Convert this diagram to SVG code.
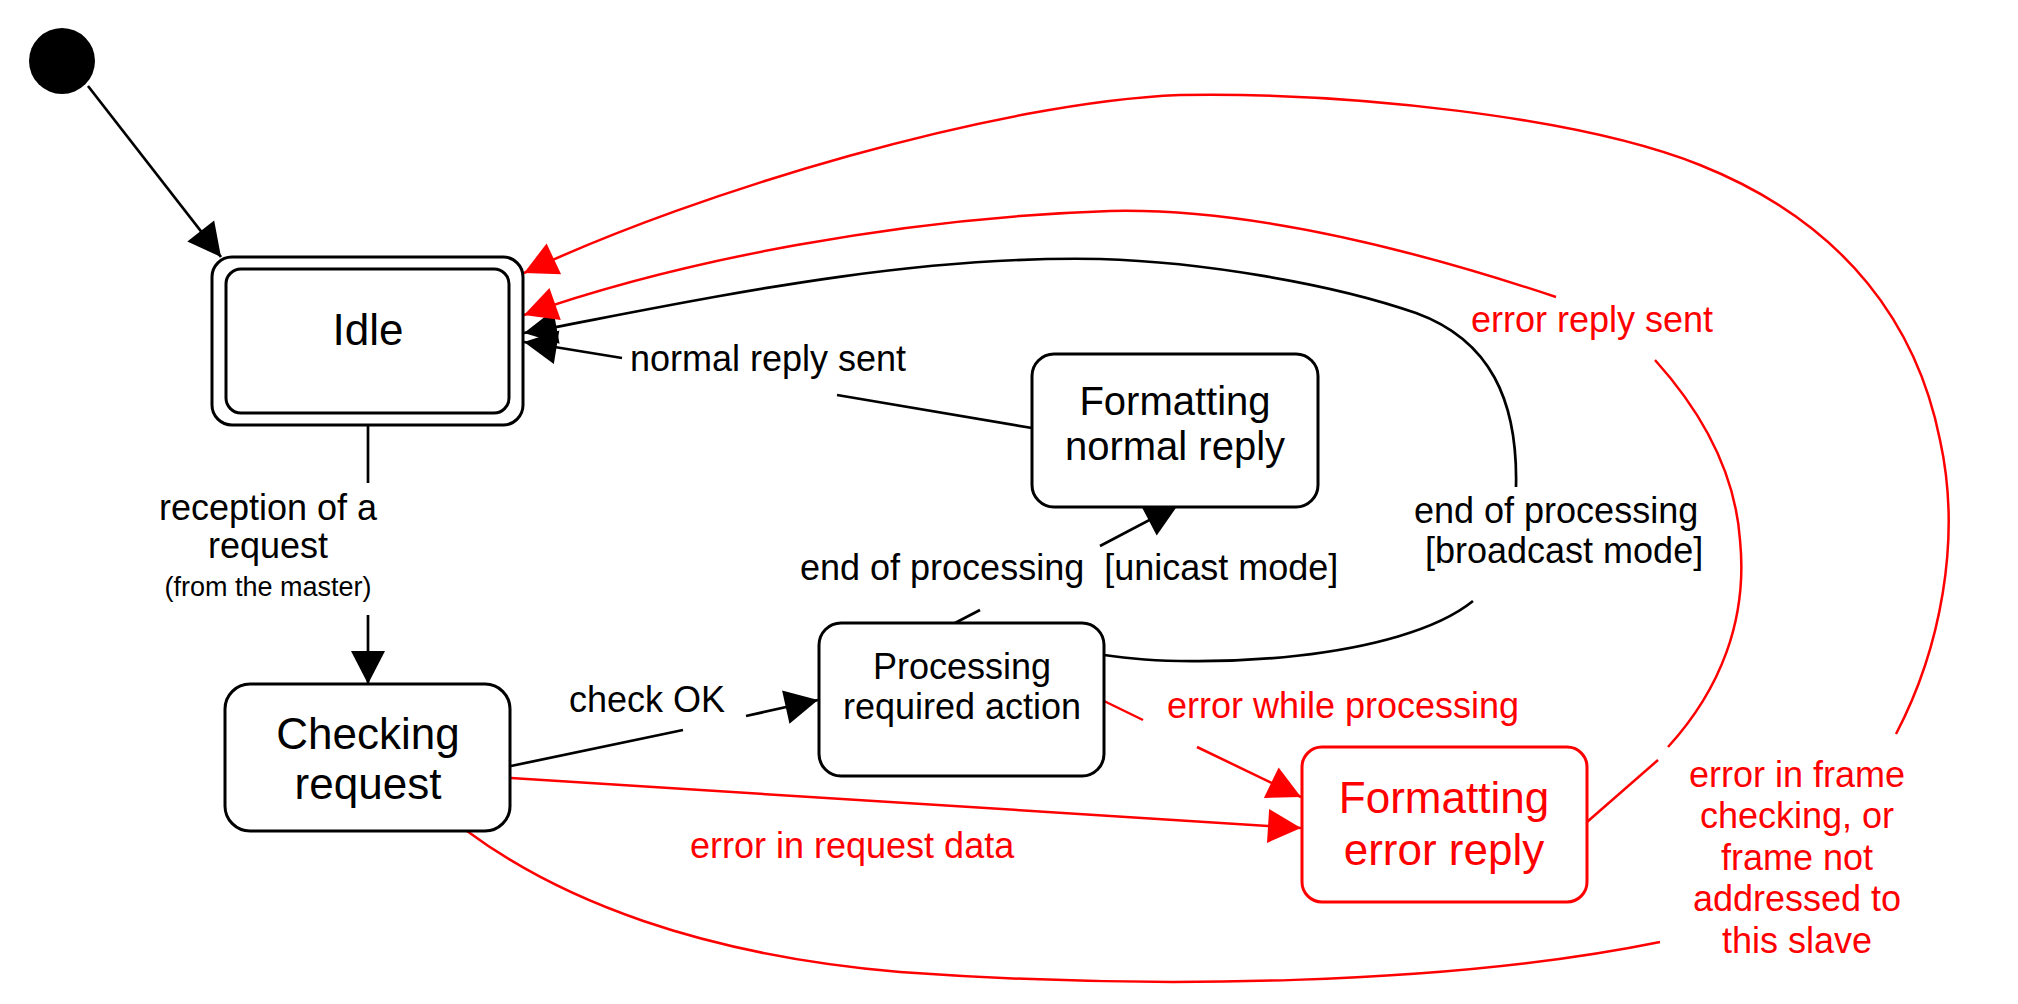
<svg xmlns="http://www.w3.org/2000/svg" width="2018" height="1004" viewBox="0 0 2018 1004">
<style>
text{font-family:"Liberation Sans",Arial,sans-serif;fill:#000}
.box{fill:#fff;stroke:#000;stroke-width:3}
.ebox{fill:#fff;stroke:#f00;stroke-width:3}
.big{font-size:44px;text-anchor:middle}
.mid{font-size:40px;text-anchor:middle}
.sm{font-size:36px;text-anchor:middle}
.lbl{font-size:36px}
.rt{fill:#f00}
.blk{fill:none;stroke:#000;stroke-width:2.7}
.red{fill:none;stroke:#f00;stroke-width:2.5}
.ab{marker-end:url(#ab)}
.ar{marker-end:url(#ar)}
</style>
<defs>
<marker id="ab" markerUnits="userSpaceOnUse" viewBox="-34 -18 36 36" markerWidth="36" markerHeight="36" refX="0" refY="0" orient="auto"><path d="M0,0 L-33,-17 L-33,17 Z" fill="#000"/></marker>
<marker id="ar" markerUnits="userSpaceOnUse" viewBox="-34 -18 36 36" markerWidth="36" markerHeight="36" refX="0" refY="0" orient="auto"><path d="M0,0 L-33,-17 L-33,17 Z" fill="#f00"/></marker>
</defs>
<rect width="2018" height="1004" fill="#fff"/>

<g id="connectors">
<path class="blk ab" d="M88 86 L221 257"/>
<path class="blk" d="M368 425 L368 483"/>
<path class="blk ab" d="M368 615 L368 684"/>
<path class="blk" d="M511 766 L683 730"/>
<path class="blk ab" d="M746 716 L818 700"/>
<path class="blk" d="M955 623 L980 610"/>
<path class="blk ab" d="M1100 546 L1178 505"/>
<path class="blk" d="M1032 428 L837 395"/>
<path class="blk ab" d="M622 358 L524 342"/>
<path class="blk" d="M1104 655 C1200 670 1400 660 1473 601"/>
<path class="blk ab" d="M1516 487 C1518 400 1490 340 1416 313 C1330 283 1200 262 1100 259 C900 255 700 300 524 333"/>
<path class="red ar" d="M511 778 L1301 828"/>
<path class="red" d="M1104 701 L1143 720"/>
<path class="red ar" d="M1197 747 L1301 797"/>
<path class="red" d="M1587 822 L1658 760"/>
<path class="red" d="M1668 747 C1720 690 1748 620 1740 540 C1735 470 1700 410 1655 360"/>
<path class="red ar" d="M1556 297 C1400 245 1240 208 1110 211 C900 218 680 260 524 315"/>
<path class="red" d="M467 831 C560 900 700 955 900 972 C1150 990 1450 985 1660 942"/>
<path class="red ar" d="M1896 734 C1940 650 1962 540 1940 440 C1918 330 1850 225 1700 165 C1580 117 1350 92 1180 95 C1000 102 700 190 524 273"/>
</g>

<g id="start"><circle cx="62" cy="61" r="33" fill="#000"/></g>

<g id="idle">
<rect class="box" x="212" y="257" width="311" height="168" rx="20"/>
<rect class="box" x="226" y="269" width="283" height="144" rx="15"/>
<text class="big" x="368" y="345">Idle</text>
</g>

<g id="checking">
<rect class="box" x="225" y="684" width="285" height="147" rx="25"/>
<text class="big" x="368" y="749">Checking</text>
<text class="big" x="368" y="799">request</text>
</g>

<g id="processing">
<rect class="box" x="819" y="623" width="285" height="153" rx="22"/>
<text class="sm" x="962" y="679">Processing</text>
<text class="sm" x="962" y="719">required action</text>
</g>

<g id="normal-reply">
<rect class="box" x="1032" y="354" width="286" height="153" rx="22"/>
<text class="mid" x="1175" y="415">Formatting</text>
<text class="mid" x="1175" y="460">normal reply</text>
</g>

<g id="error-reply">
<rect class="ebox" x="1302" y="747" width="285" height="155" rx="20"/>
<text class="big rt" x="1444" y="813">Formatting</text>
<text class="big rt" x="1444" y="865">error reply</text>
</g>

<g id="labels">
<text class="sm" x="268" y="520">reception of a</text>
<text class="sm" x="268" y="558">request</text>
<text x="268" y="596" style="font-size:27px;text-anchor:middle">(from the master)</text>
<text class="lbl" x="569" y="712">check OK</text>
<text class="lbl" x="800" y="580" xml:space="preserve">end of processing  [unicast mode]</text>
<text class="lbl" x="630" y="371">normal reply sent</text>
<text class="lbl" x="1414" y="523">end of processing</text>
<text class="lbl" x="1425" y="563">[broadcast mode]</text>
<text class="lbl rt" x="1471" y="332">error reply sent</text>
<text class="lbl rt" x="1167" y="718">error while processing</text>
<text class="lbl rt" x="690" y="858">error in request data</text>
<text class="sm rt" x="1797" y="787">error in frame</text>
<text class="sm rt" x="1797" y="828">checking, or</text>
<text class="sm rt" x="1797" y="870">frame not</text>
<text class="sm rt" x="1797" y="911">addressed to</text>
<text class="sm rt" x="1797" y="953">this slave</text>
</g>
</svg>
